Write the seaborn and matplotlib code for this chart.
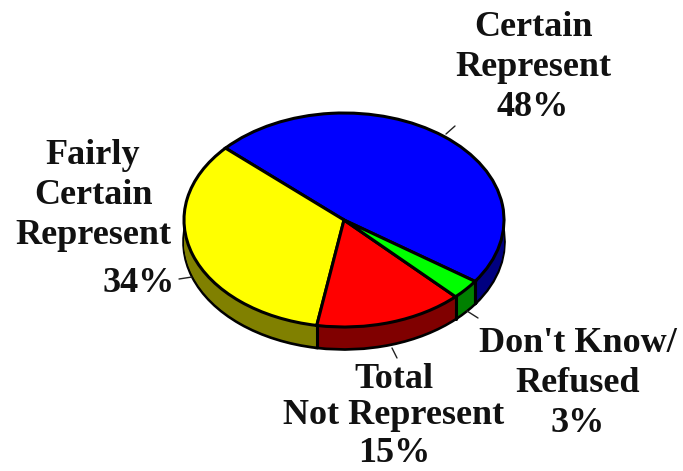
import numpy as np
import seaborn as sns
import matplotlib.pyplot as plt
from matplotlib.lines import Line2D

labels = ["Certain\nRepresent\n48%", "Fairly\nCertain\nRepresent", "Total\nNot Represent\n15%",
          "Don't Know/\nRefused\n3%"]
values = [48, 34, 15, 3]
top_colors = ["#0000ff", "#ffff00", "#ff0000", "#00ff00"]
side_colors = ["#000080", "#808000", "#800000", "#008000"]
start_angle = -35

W, H = 683, 471
CX, CY, RX, RY, DEPTH = 344, 220, 160, 107, 22

sns.set_theme(style="white")
plt.rcParams["font.family"] = ["Liberation Serif", "DejaVu Serif"]

fig = plt.figure(figsize=(W / 100, H / 100), dpi=100, facecolor="white")
ax = fig.add_axes([0, 0, 1, 1])

# side of the disc: a stack of the same pie shifted down
depth_units = DEPTH / RY
for k in np.linspace(1, 0.05, 24):
    edge = "black" if k == 1 else "none"
    ax.pie(values, colors=side_colors, startangle=start_angle, center=(0, -k * depth_units),
           wedgeprops={"edgecolor": edge, "linewidth": 2.6 if k == 1 else 0}, frame=False)
ax.pie(values, colors=top_colors, startangle=start_angle, center=(0, 0),
       wedgeprops={"edgecolor": "black", "linewidth": 2.2}, frame=False)

ax.set_aspect("auto")
ax.set_xlim(-CX / RX, (W - CX) / RX)
ax.set_ylim(-(H - CY) / RY, CY / RY)
ax.axis("off")

# vertical edges where front slices meet, and at the ends of the side
bounds = start_angle + np.cumsum([0] + values) * 3.6
for a in bounds:
    x, y = np.cos(np.radians(a)), np.sin(np.radians(a))
    if y < 0:
        ax.plot([x, x], [y, y - depth_units], color="black", lw=2.2, zorder=5)


def px_line(x0, y0, x1, y1, lw=1.0):
    fig.add_artist(Line2D([x0 / W, x1 / W], [1 - y0 / H, 1 - y1 / H], color="#222222", lw=lw))


def px_text(x, y, s, spacing=1.28):
    fig.text(x / W, 1 - y / H, s, ha="center", va="center", fontsize=26, fontweight="bold",
             color="#111111", linespacing=spacing, multialignment="center")


px_line(446, 134, 455, 126)
px_line(179, 279, 192, 277)
px_line(392, 348, 397, 358)
px_line(467, 311, 478, 318)

px_text(533, 67, labels[0])
px_text(93, 196, labels[1])
px_text(139, 283, "34%")
px_text(394, 416, labels[2], spacing=1.16)
px_text(578, 383, labels[3])

fig.savefig("out.png", dpi=100)
